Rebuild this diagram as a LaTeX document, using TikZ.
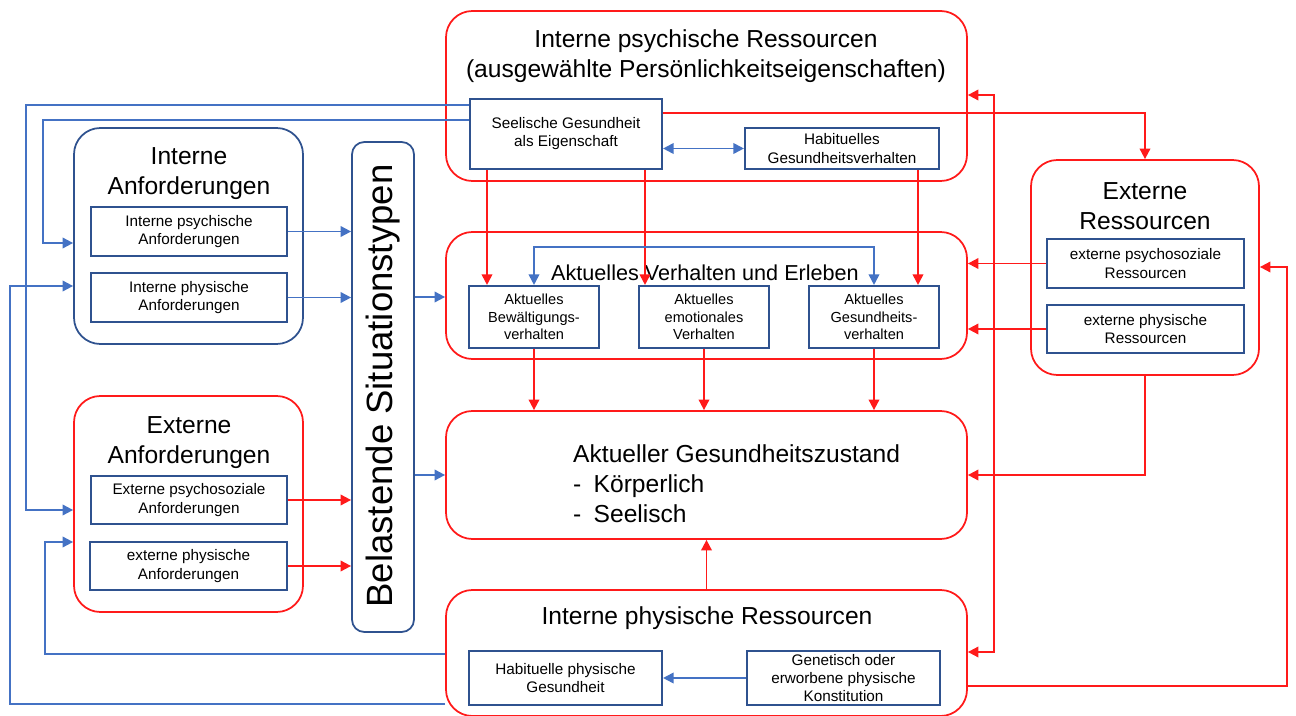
\documentclass[tikz,border=0pt]{standalone}
\usepackage{fontspec}
\setmainfont{Liberation Sans}
\usetikzlibrary{
  arrows.meta,
  positioning,
  fit,
}
\definecolor{resRed}{HTML}{FF1A1A}
\definecolor{lineBlue}{HTML}{4472C4}
\definecolor{boxBlue}{HTML}{2F528F}

\tikzset{
  redframe/.style={draw=resRed, line width=1pt, rounded corners=15pt, inner sep=0pt},
  blueframe/.style={draw=boxBlue, line width=1pt, rounded corners=15pt, inner sep=0pt},
  subbox/.style={draw=boxBlue, line width=1.2pt, inner sep=0pt, align=center,
    font=\fontsize{8.7}{10.3}\selectfont},
  titletxt/.style={align=center, font=\fontsize{14}{17}\selectfont},
  redarr/.style={draw=resRed, line width=1.05pt, -{Triangle[length=6pt,width=6pt]}},
  redboth/.style={draw=resRed, line width=1.05pt,
    {Triangle[length=6pt,width=6pt]}-{Triangle[length=6pt,width=6pt]}},
  bluearr/.style={draw=lineBlue, line width=1.05pt, -{Triangle[length=6pt,width=6pt]}},
  blueboth/.style={draw=lineBlue, line width=1.05pt,
    {Triangle[length=6pt,width=6pt]}-{Triangle[length=6pt,width=6pt]}},
}

\begin{document}
\begin{tikzpicture}[x=0.02cm, y=-0.02cm]
\useasboundingbox[fill=white] (0,0) rectangle (1296,716);

% outer frames
\node[redframe, fit={(446,11) (967,181)}] (ipsy) {};
\node[redframe, fit={(446,232) (967,359)}] (akt) {};
\node[redframe, fit={(446,411) (967,539)}] (zust) {};
\node[redframe, fit={(446,590) (967,716)}] (iphy) {};
\node[redframe, fit={(1031,160) (1259,375)}] (extr) {};
\node[blueframe, fit={(74,128) (303,344)}] (inta) {};
\node[redframe, fit={(74,396) (303,612)}] (exta) {};
\node[draw=boxBlue, line width=1pt, rounded corners=7pt, inner sep=0pt,
      fit={(352,142) (414,632)}] (belast) {};

% frame titles
\node[titletxt] (ipsyT) at (706,56) {Interne psychische Ressourcen\\(ausgewählte Persönlichkeitseigenschaften)};
\node[align=center, font=\fontsize{12.3}{15}\selectfont] (aktT) at (705,273) {Aktuelles Verhalten und Erleben};
\node[titletxt, anchor=west, align=left] (zustT) at (567,484)
  {Aktueller Gesundheitszustand\\-\hspace{0.5em}Körperlich\\-\hspace{0.5em}Seelisch};
\node[titletxt] (iphyT) at (707,618) {Interne physische Ressourcen};
\node[titletxt] (extrT) at (1145,206) {Externe\\Ressourcen};
\node[titletxt] (intaT) at (189,174) {Interne\\Anforderungen};
\node[titletxt] (extaT) at (189,443) {Externe\\Anforderungen};
\node[rotate=90, font=\fontsize{20.8}{24}\selectfont] (belastT) at (383,386) {Belastende Situationstypen};

% inner boxes
\foreach \nm/\xa/\ya/\xb/\yb/\txt in {%
  seel/470/99/662/169/{Seelische Gesundheit\\als Eigenschaft},%
  habit/745/128/939/169/{Habituelles\\Gesundheitsverhalten},%
  ipa/91/207/287/256/{Interne psychische\\Anforderungen},%
  ipha/91/273/287/322/{Interne physische\\Anforderungen},%
  epsa/91/476/287/524/{Externe psychosoziale\\Anforderungen},%
  epha/90/542/287/590/{externe physische\\Anforderungen},%
  epsr/1047/239/1244/288/{externe psychosoziale\\Ressourcen},%
  ephr/1047/305/1244/353/{externe physische\\Ressourcen},%
  hpg/469/651/662/705/{Habituelle physische\\Gesundheit},%
  gen/747/651/940/705/{Genetisch oder\\erworbene physische\\Konstitution}%
}
{
  \node[subbox, minimum width={(\xb-\xa)*0.02cm}, minimum height={(\yb-\ya)*0.02cm}]
    (\nm) at ({(\xa+\xb)/2},{(\ya+\yb)/2}) {\txt};
}

% current behaviour boxes, with arrows down to the health state
\foreach \nm/\xa/\txt in {%
  bew/469/{Aktuelles\\Bewältigungs-\\verhalten},%
  emo/639/{Aktuelles\\emotionales\\Verhalten},%
  gv/809/{Aktuelles\\Gesundheits-\\verhalten}%
}
{
  \node[subbox, font=\fontsize{8.3}{10}\selectfont, minimum width=2.6cm, minimum height=1.24cm]
    (\nm) at (\xa+65,317) {\txt};
  \draw[redarr] (\nm.south) -- (zust.north -| \nm.south);
}

% red links
\draw[redarr] (seel.south -| 487,0) -- (bew.north -| 487,0);
\draw[redarr] (seel.south -| 645,0) -- (emo.north -| 645,0);
\draw[redarr] (habit.south -| 918,0) -- (gv.north -| 918,0);
\draw[redarr] (seel.east |- 0,113) -| (extr.north);
\draw[redboth] (ipsy.east |- 0,95) -| (994,652) -- (iphy.east |- 0,652);
\draw[redarr] (iphy.east |- 0,686) -| (1287,267) -- (extr.east |- 0,267);
\draw[redarr] (epsr.west) -- (akt.east |- epsr.west);
\draw[redarr] (ephr.west) -- (akt.east |- ephr.west);
\draw[redarr] (extr.south) |- (zust.east |- 0,475);
\draw[redarr] (iphy.north) -- (zust.south);
\draw[redarr] (epsa.east) -- (belast.west |- epsa.east);
\draw[redarr] (epha.east) -- (belast.west |- epha.east);

% blue links
\draw[blueboth] (seel.east |- habit.west) -- (habit.west);
\draw[blueboth] (bew.north) -- (bew.north |- 0,247) -| (gv.north);
\draw[bluearr] (gen.west) -- (hpg.east);
\draw[bluearr] (ipa.east) -- (belast.west |- ipa.east);
\draw[bluearr] (ipha.east) -- (belast.west |- ipha.east);
\draw[bluearr] (belast.east |- 0,297) -- (akt.west |- 0,297);
\draw[bluearr] (belast.east |- 0,475) -- (zust.west |- 0,475);
\draw[bluearr] (seel.west |- 0,105) -| (26,510) -- (exta.west |- 0,510);
\draw[bluearr] (seel.west |- 0,120) -| (43,243) -- (inta.west |- 0,243);
\draw[bluearr] (iphy.west |- 0,704) -| (10,286) -- (inta.west |- 0,286);
\draw[bluearr] (iphy.west |- 0,654) -| (45,542) -- (exta.west |- 0,542);

\end{tikzpicture}
\end{document}
